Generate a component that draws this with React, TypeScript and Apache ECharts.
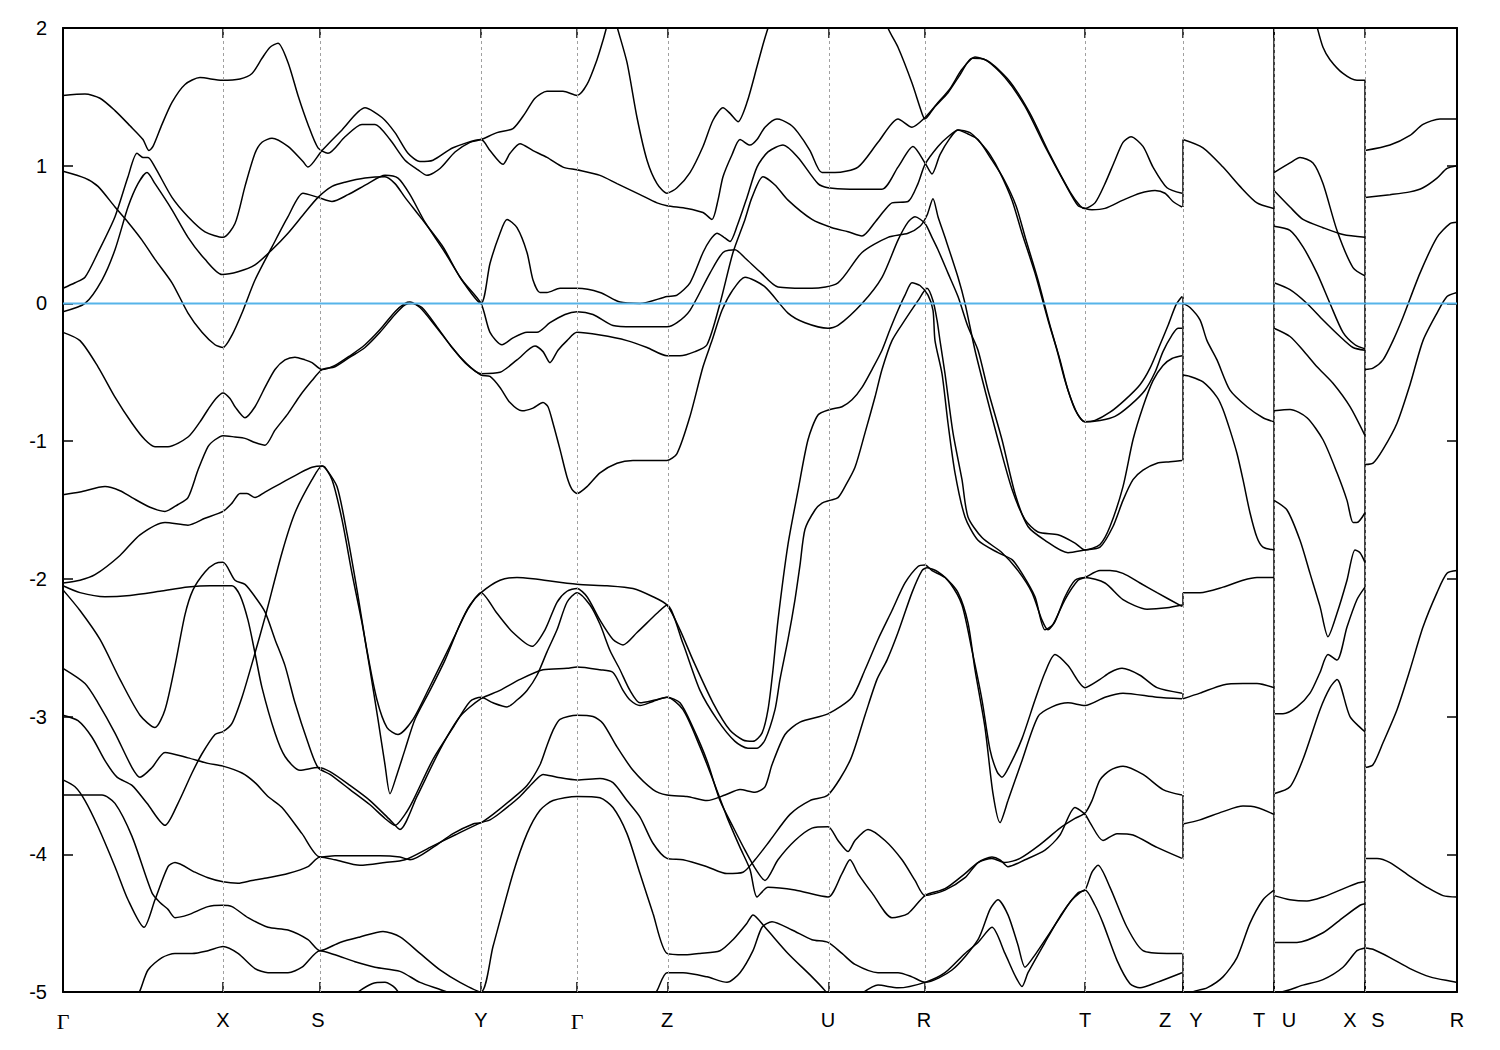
import React, { useEffect, useRef } from "react";
import * as echarts from "echarts";

// k-path coordinate (arbitrary units along the path) and energies in eV
const kTicks = [160, 257, 418, 514, 605, 766, 862, 1022, 1120, 1211, 1302];
const labelPos = [0, 160, 255, 418, 514, 604, 765, 861, 1022, 1102, 1133, 1196, 1226, 1287, 1315, 1394];
const labelText = ["Γ", "X", "S", "Y", "Γ", "Z", "U", "R", "T", "Z", "Y", "T", "U", "X", "S", "R"];
const breakJumps = [
  [1120, 1.19, 0.7], [1120, 0.05, -1.14], [1120, -2.1, -2.2], [1120, -2.83, -2.87],
  [1120, -3.57, -4.03], [1120, -4.72, -5.0], [1211, 2.0, -5.0], [1302, 1.62, -5.0],
];

// ---- segment Γ-X-S-Y-Γ-Z-U-R-T-Z ----
const bandC1 = [[0,1.51],[22,1.52],[37,1.49],[52,1.4],[67,1.29],[80,1.19],[86,1.11],[90,1.14],[99,1.3],[109,1.46],[122,1.59],[137,1.64],[159,1.62],[177,1.63],[189,1.67],[199,1.78],[207,1.86],[215,1.89],[225,1.75],[235,1.51],[245,1.3],[255,1.13],[265,1.09],[282,1.21],[299,1.3],[312,1.3],[327,1.19],[342,1.04],[355,0.97],[364,0.93],[377,0.98],[392,1.1],[407,1.17],[418,1.19],[434,1.24],[450,1.27],[462,1.38],[472,1.49],[484,1.54],[500,1.54],[514,1.51],[524,1.59],[534,1.77],[540,1.91],[547,2.09],[550,2.12],[554,2.01],[564,1.75],[574,1.35],[584,1.04],[594,0.87],[604,0.8],[614,0.84],[627,0.95],[640,1.14],[650,1.33],[660,1.42],[667,1.38],[675,1.32],[684,1.46],[694,1.72],[700,1.88],[705,2.0],[727,2.5],[765,2.86],[807,2.42],[825,2.0],[835,1.86],[849,1.6],[859,1.38],[862,1.34],[872,1.43],[885,1.53],[897,1.66],[909,1.78],[922,1.77],[942,1.64],[962,1.43],[982,1.14],[1002,0.87],[1015,0.71],[1022,0.69],[1029,0.68],[1042,0.69],[1060,0.75],[1077,0.8],[1092,0.82],[1102,0.8],[1110,0.74],[1119,0.7]];
const bandC2 = [[0,0.11],[12,0.15],[22,0.19],[35,0.37],[52,0.63],[65,0.92],[74,1.09],[80,1.06],[85,1.06],[92,0.99],[109,0.77],[125,0.63],[142,0.52],[160,0.48],[172,0.58],[182,0.85],[192,1.09],[199,1.17],[209,1.2],[225,1.14],[240,1.03],[245,0.99],[259,1.11],[279,1.26],[302,1.42],[319,1.35],[332,1.24],[345,1.09],[357,1.03],[370,1.04],[390,1.13],[418,1.19],[427,1.11],[440,1.01],[447,1.09],[457,1.16],[470,1.11],[484,1.06],[500,0.99],[514,0.97],[537,0.93],[554,0.87],[577,0.79],[594,0.73],[604,0.71],[624,0.69],[640,0.66],[649,0.61],[655,0.75],[660,0.92],[669,1.08],[677,1.19],[687,1.15],[694,1.19],[702,1.28],[714,1.34],[727,1.3],[735,1.24],[747,1.11],[759,0.95],[772,0.95],[795,0.99],[815,1.17],[835,1.34],[849,1.28],[862,1.35],[874,1.45],[887,1.56],[899,1.7],[912,1.79],[927,1.75],[947,1.61],[967,1.38],[987,1.08],[1007,0.81],[1017,0.71],[1022,0.69],[1032,0.73],[1042,0.87],[1052,1.04],[1060,1.17],[1068,1.21],[1080,1.14],[1090,0.99],[1104,0.84],[1119,0.8]];
const bandC3 = [[0,-0.06],[22,0.0],[39,0.17],[52,0.39],[65,0.7],[75,0.87],[84,0.95],[92,0.87],[109,0.68],[125,0.48],[142,0.32],[159,0.21],[175,0.23],[192,0.28],[209,0.39],[225,0.51],[242,0.66],[255,0.77],[269,0.85],[282,0.88],[302,0.91],[322,0.92],[332,0.87],[342,0.77],[357,0.63],[380,0.41],[397,0.19],[418,0.0],[427,0.29],[437,0.51],[444,0.61],[454,0.55],[464,0.37],[470,0.17],[477,0.08],[484,0.08],[497,0.11],[514,0.11],[537,0.08],[557,0.01],[577,0.0],[604,0.05],[614,0.06],[627,0.15],[640,0.37],[647,0.46],[654,0.51],[661,0.48],[667,0.45],[674,0.56],[684,0.77],[694,0.99],[705,1.1],[720,1.15],[735,1.06],[755,0.87],[765,0.84],[787,0.83],[819,0.83],[835,0.99],[850,1.14],[862,1.02],[869,0.94],[877,1.08],[887,1.2],[895,1.26],[907,1.24],[917,1.17],[927,1.08],[937,0.95],[949,0.75],[959,0.51],[972,0.22],[985,-0.12],[994,-0.34],[1002,-0.56],[1012,-0.77],[1022,-0.86],[1032,-0.85],[1047,-0.79],[1062,-0.7],[1077,-0.59],[1087,-0.47],[1097,-0.3],[1105,-0.16],[1113,-0.01],[1119,0.05]];
const bandC4 = [[0,0.96],[22,0.91],[35,0.85],[52,0.7],[65,0.59],[79,0.46],[92,0.32],[109,0.15],[125,-0.07],[139,-0.21],[152,-0.3],[160,-0.32],[169,-0.23],[179,-0.07],[192,0.17],[209,0.41],[225,0.63],[240,0.8],[255,0.77],[269,0.74],[285,0.79],[305,0.87],[322,0.93],[335,0.91],[347,0.79],[362,0.59],[382,0.37],[399,0.17],[418,0.0],[427,-0.21],[439,-0.3],[450,-0.25],[464,-0.21],[474,-0.21],[487,-0.14],[502,-0.08],[514,-0.06],[530,-0.08],[550,-0.16],[570,-0.17],[604,-0.17],[614,-0.14],[627,-0.05],[647,0.22],[660,0.37],[672,0.39],[682,0.33],[697,0.23],[715,0.12],[749,0.11],[775,0.15],[799,0.37],[825,0.48],[845,0.51],[857,0.56],[864,0.64],[870,0.76],[875,0.63],[882,0.48],[895,0.19],[902,0.0],[912,-0.34],[922,-0.63],[935,-0.99],[949,-1.35],[962,-1.57],[975,-1.66],[995,-1.68],[1012,-1.74],[1022,-1.79],[1037,-1.75],[1047,-1.62],[1060,-1.33],[1070,-0.99],[1080,-0.75],[1090,-0.56],[1100,-0.45],[1109,-0.4],[1119,-0.38]];
const bandM1 = [[0,-0.21],[17,-0.27],[35,-0.46],[52,-0.68],[69,-0.87],[82,-0.99],[92,-1.04],[105,-1.04],[125,-0.97],[137,-0.86],[145,-0.77],[153,-0.69],[160,-0.65],[167,-0.69],[172,-0.75],[182,-0.83],[192,-0.75],[202,-0.61],[212,-0.48],[222,-0.41],[232,-0.39],[242,-0.41],[249,-0.43],[259,-0.48],[272,-0.45],[287,-0.38],[302,-0.3],[317,-0.19],[332,-0.06],[342,0.0],[347,0.01],[357,-0.03],[372,-0.16],[387,-0.3],[402,-0.43],[418,-0.51],[437,-0.5],[454,-0.41],[472,-0.31],[480,-0.35],[487,-0.43],[495,-0.34],[504,-0.27],[514,-0.21],[537,-0.23],[564,-0.27],[584,-0.32],[604,-0.38],[617,-0.38],[632,-0.35],[644,-0.3],[657,0.0],[670,0.37],[682,0.61],[689,0.77],[700,0.92],[712,0.86],[725,0.75],[749,0.61],[769,0.55],[785,0.52],[799,0.49],[812,0.59],[822,0.68],[829,0.73],[845,0.74],[855,0.87],[862,1.01],[875,1.14],[885,1.21],[895,1.26],[905,1.23],[915,1.19],[929,1.04],[941,0.9],[953,0.71],[963,0.46],[975,0.17],[987,-0.16],[997,-0.41],[1005,-0.63],[1015,-0.81],[1022,-0.86],[1037,-0.85],[1052,-0.82],[1067,-0.74],[1082,-0.63],[1092,-0.5],[1100,-0.35],[1109,-0.23],[1115,-0.18],[1119,-0.18]];
const bandM2 = [[0,-1.39],[17,-1.37],[42,-1.33],[57,-1.36],[69,-1.41],[87,-1.48],[102,-1.51],[115,-1.46],[125,-1.41],[135,-1.21],[145,-1.04],[152,-0.99],[160,-0.96],[172,-0.97],[182,-0.98],[192,-1.01],[202,-1.03],[212,-0.92],[225,-0.8],[237,-0.67],[249,-0.56],[259,-0.48],[272,-0.46],[287,-0.39],[302,-0.32],[317,-0.21],[332,-0.08],[342,-0.01],[349,0.0],[359,-0.03],[374,-0.17],[389,-0.32],[404,-0.44],[418,-0.52],[427,-0.53],[437,-0.61],[447,-0.72],[459,-0.78],[470,-0.76],[480,-0.72],[485,-0.75],[490,-0.87],[497,-1.06],[504,-1.26],[509,-1.35],[514,-1.38],[524,-1.33],[537,-1.23],[554,-1.16],[570,-1.14],[604,-1.14],[614,-1.09],[627,-0.82],[640,-0.46],[649,-0.27],[659,-0.05],[670,0.1],[682,0.19],[702,0.12],[725,-0.07],[742,-0.14],[765,-0.18],[775,-0.16],[799,0.0],[819,0.19],[835,0.46],[845,0.59],[852,0.63],[862,0.58],[869,0.48],[875,0.39],[885,0.22],[895,0.05],[905,-0.17],[915,-0.34],[925,-0.63],[939,-0.99],[952,-1.38],[965,-1.62],[982,-1.72],[1005,-1.81],[1022,-1.79],[1037,-1.77],[1050,-1.62],[1060,-1.43],[1070,-1.28],[1080,-1.21],[1094,-1.16],[1107,-1.15],[1119,-1.14]];
const bandL1 = [[0,-2.03],[17,-2.01],[32,-1.97],[57,-1.83],[77,-1.68],[102,-1.59],[125,-1.61],[142,-1.56],[160,-1.51],[169,-1.45],[177,-1.38],[184,-1.38],[192,-1.41],[202,-1.37],[217,-1.31],[237,-1.23],[249,-1.19],[259,-1.18],[269,-1.28],[279,-1.57],[289,-1.96],[299,-2.32],[307,-2.66],[315,-3.02],[322,-3.35],[327,-3.56],[334,-3.42],[342,-3.24],[352,-3.02],[367,-2.81],[382,-2.59],[397,-2.33],[407,-2.19],[418,-2.1],[437,-2.01],[454,-1.99],[470,-2.0],[514,-2.04],[544,-2.05],[570,-2.07],[590,-2.13],[604,-2.19],[617,-2.37],[630,-2.59],[650,-2.9],[667,-3.1],[680,-3.17],[690,-3.18],[699,-3.12],[705,-2.95],[710,-2.66],[715,-2.3],[725,-1.75],[735,-1.36],[745,-0.99],[755,-0.81],[767,-0.77],[779,-0.75],[789,-0.7],[799,-0.61],[809,-0.48],[819,-0.34],[827,-0.19],[835,-0.05],[842,0.06],[849,0.15],[857,0.13],[865,0.06],[870,-0.05],[872,-0.27],[879,-0.51],[885,-0.87],[892,-1.23],[902,-1.55],[915,-1.72],[935,-1.81],[949,-1.86],[959,-1.96],[972,-2.13],[982,-2.37],[990,-2.33],[1002,-2.15],[1015,-2.01],[1022,-1.99],[1037,-1.94],[1047,-1.94],[1060,-1.96],[1077,-2.03],[1094,-2.1],[1119,-2.2]];
const bandL2 = [[0,-2.99],[15,-3.03],[29,-3.15],[42,-3.32],[54,-3.44],[69,-3.5],[84,-3.63],[102,-3.79],[115,-3.63],[129,-3.41],[139,-3.27],[152,-3.13],[160,-3.11],[169,-3.05],[179,-2.86],[190,-2.59],[202,-2.28],[219,-1.81],[232,-1.52],[249,-1.28],[259,-1.18],[262,-1.19],[274,-1.33],[284,-1.67],[294,-2.08],[304,-2.52],[314,-2.88],[324,-3.08],[335,-3.13],[350,-3.02],[367,-2.78],[380,-2.59],[392,-2.41],[404,-2.23],[418,-2.1],[434,-2.25],[450,-2.39],[469,-2.49],[482,-2.37],[494,-2.17],[504,-2.09],[514,-2.07],[524,-2.13],[537,-2.3],[550,-2.44],[560,-2.48],[574,-2.39],[594,-2.25],[604,-2.19],[620,-2.47],[637,-2.81],[654,-3.02],[672,-3.18],[685,-3.23],[694,-3.23],[702,-3.17],[712,-2.95],[717,-2.73],[725,-2.44],[732,-2.15],[737,-1.9],[742,-1.64],[752,-1.5],[759,-1.45],[767,-1.43],[775,-1.41],[782,-1.33],[792,-1.19],[802,-0.94],[812,-0.68],[819,-0.48],[829,-0.27],[842,-0.12],[855,0.02],[864,0.11],[870,0.02],[874,-0.12],[877,-0.27],[882,-0.51],[890,-0.94],[899,-1.28],[905,-1.55],[919,-1.7],[939,-1.81],[955,-1.94],[969,-2.1],[979,-2.3],[985,-2.37],[992,-2.31],[1002,-2.13],[1012,-2.01],[1022,-1.99],[1042,-2.03],[1060,-2.15],[1084,-2.22],[1104,-2.21],[1119,-2.19]];
const bandQ1 = [[0,-2.08],[17,-2.23],[37,-2.44],[57,-2.73],[77,-2.99],[92,-3.08],[102,-2.95],[112,-2.63],[122,-2.26],[130,-2.08],[142,-1.95],[152,-1.89],[160,-1.88],[172,-2.01],[182,-2.04],[192,-2.13],[202,-2.24],[212,-2.44],[222,-2.63],[232,-2.9],[245,-3.19],[255,-3.37],[267,-3.42],[287,-3.53],[307,-3.64],[322,-3.74],[332,-3.79],[342,-3.71],[350,-3.61],[370,-3.31],[390,-3.08],[407,-2.89],[418,-2.86],[430,-2.9],[444,-2.93],[454,-2.88],[464,-2.81],[474,-2.7],[484,-2.53],[494,-2.37],[504,-2.17],[514,-2.1],[527,-2.19],[537,-2.33],[547,-2.52],[557,-2.66],[567,-2.81],[577,-2.9],[592,-2.88],[604,-2.86],[617,-2.9],[630,-3.08],[644,-3.32],[657,-3.61],[670,-3.8],[682,-3.97],[692,-4.1],[702,-4.19],[715,-4.04],[732,-3.9],[749,-3.81],[765,-3.8],[775,-3.9],[785,-3.98],[792,-3.9],[805,-3.82],[822,-3.9],[839,-4.04],[852,-4.19],[862,-4.3],[882,-4.26],[902,-4.17],[915,-4.06],[929,-4.02],[937,-4.04],[945,-4.09],[962,-4.04],[982,-3.97],[997,-3.86],[1012,-3.66],[1022,-3.71],[1027,-3.77],[1040,-3.9],[1054,-3.85],[1070,-3.86],[1094,-3.95],[1119,-4.03]];
const bandL3 = [[0,-2.05],[17,-2.1],[42,-2.13],[67,-2.12],[97,-2.09],[125,-2.06],[147,-2.05],[169,-2.05],[177,-2.12],[185,-2.3],[192,-2.54],[199,-2.79],[212,-3.12],[222,-3.29],[237,-3.39],[255,-3.37],[267,-3.4],[287,-3.5],[307,-3.61],[327,-3.75],[337,-3.82],[354,-3.58],[377,-3.24],[397,-3.0],[418,-2.87],[437,-2.81],[457,-2.73],[480,-2.66],[504,-2.65],[514,-2.64],[537,-2.66],[550,-2.68],[560,-2.81],[567,-2.88],[577,-2.92],[590,-2.89],[604,-2.86],[620,-2.95],[637,-3.22],[650,-3.46],[664,-3.73],[677,-3.95],[687,-4.11],[694,-4.31],[705,-4.24],[732,-4.26],[765,-4.31],[779,-4.14],[787,-4.04],[795,-4.14],[809,-4.28],[829,-4.46],[845,-4.43],[862,-4.3],[882,-4.25],[902,-4.14],[915,-4.06],[929,-4.03],[942,-4.06],[957,-4.03],[977,-3.93],[997,-3.81],[1012,-3.74],[1022,-3.7],[1029,-3.61],[1037,-3.46],[1047,-3.39],[1060,-3.36],[1080,-3.42],[1100,-3.53],[1119,-3.57]];
const bandA1 = [[0,-2.65],[22,-2.76],[35,-2.9],[52,-3.12],[69,-3.37],[77,-3.44],[89,-3.37],[102,-3.26],[125,-3.3],[145,-3.34],[160,-3.36],[179,-3.41],[192,-3.48],[205,-3.58],[219,-3.66],[239,-3.85],[257,-4.02],[272,-4.01],[297,-4.01],[317,-4.01],[337,-4.02],[347,-4.04],[370,-3.95],[390,-3.85],[410,-3.78],[418,-3.77],[430,-3.71],[447,-3.61],[464,-3.5],[477,-3.35],[484,-3.21],[490,-3.1],[497,-3.02],[514,-2.99],[530,-3.0],[540,-3.05],[554,-3.22],[570,-3.39],[590,-3.53],[604,-3.57],[624,-3.58],[644,-3.61],[662,-3.57],[677,-3.53],[692,-3.55],[702,-3.51],[709,-3.35],[722,-3.13],[737,-3.04],[765,-2.98],[789,-2.86],[802,-2.66],[815,-2.44],[829,-2.23],[842,-2.03],[855,-1.91],[862,-1.9],[869,-1.94],[882,-1.99],[895,-2.1],[905,-2.32],[912,-2.66],[922,-3.08],[930,-3.56],[937,-3.77],[945,-3.61],[959,-3.32],[975,-3.0],[989,-2.93],[1005,-2.9],[1022,-2.92],[1042,-2.86],[1060,-2.83],[1094,-2.86],[1119,-2.87]];
const bandC5 = [[0,-3.46],[12,-3.51],[22,-3.61],[35,-3.8],[52,-4.09],[65,-4.33],[81,-4.53],[92,-4.33],[105,-4.09],[112,-4.06],[132,-4.13],[145,-4.17],[160,-4.2],[175,-4.21],[189,-4.19],[205,-4.17],[225,-4.14],[245,-4.09],[257,-4.02],[272,-4.04],[297,-4.08],[322,-4.06],[342,-4.04],[367,-3.95],[392,-3.86],[418,-3.77],[427,-3.75],[437,-3.7],[457,-3.58],[470,-3.48],[480,-3.42],[494,-3.44],[514,-3.46],[537,-3.45],[550,-3.48],[564,-3.61],[577,-3.73],[590,-3.92],[604,-4.03],[620,-4.04],[644,-4.09],[664,-4.14],[680,-4.13],[692,-4.04],[707,-3.9],[727,-3.71],[747,-3.61],[765,-3.57],[787,-3.32],[802,-2.99],[814,-2.73],[824,-2.59],[835,-2.39],[849,-2.1],[859,-1.94],[864,-1.92],[875,-1.95],[887,-2.03],[899,-2.19],[909,-2.52],[919,-2.88],[927,-3.24],[934,-3.4],[939,-3.44],[947,-3.35],[959,-3.16],[972,-2.88],[982,-2.68],[992,-2.55],[1005,-2.63],[1022,-2.79],[1037,-2.73],[1047,-2.68],[1059,-2.65],[1077,-2.7],[1094,-2.79],[1119,-2.83]];
const bandD1 = [[0,-3.57],[19,-3.57],[39,-3.57],[52,-3.63],[69,-3.87],[89,-4.28],[97,-4.35],[105,-4.4],[112,-4.46],[125,-4.44],[145,-4.38],[159,-4.37],[169,-4.38],[185,-4.46],[205,-4.53],[225,-4.55],[245,-4.62],[257,-4.7],[277,-4.64],[297,-4.6],[320,-4.56],[337,-4.6],[357,-4.72],[377,-4.84],[397,-4.93],[418,-5.0],[430,-4.67],[450,-4.14],[464,-3.85],[477,-3.68],[490,-3.61],[514,-3.58],[537,-3.59],[550,-3.66],[564,-3.85],[577,-4.14],[590,-4.43],[604,-4.72],[622,-4.73],[637,-4.72],[657,-4.7],[670,-4.62],[684,-4.5],[690,-4.44],[702,-4.53],[725,-4.72],[749,-4.89],[762,-4.99],[777,-5.13],[797,-5.02],[815,-4.95],[835,-4.97],[862,-4.93],[882,-4.86],[902,-4.72],[915,-4.64],[929,-4.53],[942,-4.72],[952,-4.88],[959,-4.96],[965,-4.86],[982,-4.64],[999,-4.43],[1015,-4.28],[1022,-4.26],[1029,-4.13],[1035,-4.08],[1047,-4.24],[1064,-4.53],[1080,-4.7],[1104,-4.72],[1119,-4.72]];
const bandE1 = [[67,-5.13],[77,-4.99],[85,-4.84],[99,-4.75],[112,-4.72],[129,-4.72],[145,-4.7],[160,-4.67],[175,-4.72],[192,-4.83],[205,-4.86],[225,-4.86],[239,-4.82],[257,-4.7],[272,-4.73],[292,-4.78],[312,-4.82],[337,-4.85],[357,-4.93],[384,-5.0],[407,-5.09],[467,-5.28],[537,-5.28],[587,-5.06],[594,-4.99],[604,-4.86],[620,-4.86],[644,-4.89],[664,-4.93],[677,-4.86],[690,-4.7],[699,-4.53],[709,-4.49],[729,-4.55],[749,-4.62],[765,-4.64],[779,-4.72],[792,-4.8],[815,-4.86],[835,-4.86],[849,-4.89],[862,-4.93],[889,-4.84],[915,-4.62],[927,-4.4],[935,-4.33],[945,-4.44],[955,-4.66],[962,-4.82],[972,-4.73],[995,-4.48],[1009,-4.33],[1022,-4.26],[1032,-4.37],[1040,-4.5],[1054,-4.77],[1067,-4.94],[1077,-4.97],[1094,-4.93],[1119,-4.86]];
const bandK1 = [[282,-5.08],[295,-5.0],[309,-4.94],[322,-4.93],[332,-4.97],[342,-5.08]];

// ---- segment Y-T ----
const ytBands = [
  [[1120,1.19],[1140,1.13],[1160,0.99],[1177,0.85],[1194,0.73],[1211,0.69]],
  [[1120,0.0],[1127,-0.03],[1137,-0.12],[1144,-0.27],[1154,-0.41],[1167,-0.63],[1184,-0.75],[1200,-0.83],[1211,-0.86]],
  [[1120,-0.52],[1127,-0.53],[1140,-0.57],[1154,-0.68],[1160,-0.77],[1167,-0.92],[1174,-1.09],[1180,-1.28],[1187,-1.52],[1194,-1.7],[1200,-1.77],[1211,-1.79]],
  [[1120,-2.1],[1137,-2.1],[1160,-2.06],[1180,-2.01],[1194,-1.99],[1211,-1.99]],
  [[1120,-2.87],[1137,-2.83],[1160,-2.77],[1180,-2.76],[1194,-2.76],[1211,-2.79]],
  [[1120,-3.78],[1137,-3.75],[1160,-3.69],[1180,-3.65],[1194,-3.66],[1211,-3.71]],
  [[1122,-5.06],[1130,-5.0],[1144,-4.97],[1160,-4.89],[1174,-4.75],[1187,-4.5],[1200,-4.33],[1211,-4.26]],
];

// ---- segment U-X ----
const uxBands = [
  [[1242,2.35],[1254,2.01],[1260,1.86],[1267,1.77],[1280,1.67],[1294,1.62],[1302,1.62]],
  [[1211,0.95],[1227,1.02],[1237,1.06],[1250,1.02],[1260,0.87],[1274,0.53],[1290,0.26],[1302,0.2]],
  [[1211,0.82],[1227,0.7],[1240,0.61],[1260,0.55],[1280,0.5],[1302,0.48]],
  [[1211,0.56],[1227,0.53],[1240,0.41],[1254,0.22],[1267,0.0],[1280,-0.21],[1292,-0.3],[1302,-0.33]],
  [[1211,0.15],[1227,0.1],[1244,0.0],[1260,-0.12],[1277,-0.24],[1290,-0.32],[1302,-0.34]],
  [[1211,-0.18],[1227,-0.24],[1240,-0.34],[1254,-0.46],[1270,-0.58],[1287,-0.75],[1302,-0.96]],
  [[1211,-0.78],[1227,-0.77],[1244,-0.83],[1260,-0.99],[1274,-1.23],[1284,-1.43],[1290,-1.59],[1294,-1.59],[1302,-1.52]],
  [[1211,-1.43],[1224,-1.5],[1237,-1.72],[1247,-1.96],[1257,-2.2],[1265,-2.42],[1274,-2.25],[1284,-2.01],[1292,-1.79],[1297,-1.81],[1302,-1.88]],
  [[1211,-2.98],[1220,-2.98],[1234,-2.93],[1247,-2.83],[1257,-2.68],[1265,-2.55],[1274,-2.59],[1284,-2.35],[1294,-2.15],[1302,-2.06]],
  [[1211,-3.56],[1227,-3.51],[1240,-3.31],[1257,-2.95],[1267,-2.79],[1274,-2.73],[1287,-3.0],[1302,-3.11]],
  [[1211,-4.3],[1227,-4.33],[1244,-4.34],[1260,-4.31],[1277,-4.26],[1294,-4.21],[1302,-4.2]],
  [[1211,-4.64],[1234,-4.64],[1260,-4.57],[1280,-4.46],[1297,-4.37],[1302,-4.36]],
  [[1211,-5.0],[1217,-5.0],[1240,-4.95],[1260,-4.91],[1280,-4.82],[1294,-4.7],[1302,-4.68]],
];

// ---- segment S-R ----
const srBands = [
  [[1302,1.11],[1327,1.15],[1347,1.22],[1360,1.3],[1377,1.34],[1394,1.34]],
  [[1302,0.77],[1327,0.79],[1347,0.81],[1360,0.84],[1374,0.91],[1384,0.98],[1394,1.0]],
  [[1302,-0.48],[1310,-0.47],[1320,-0.41],[1330,-0.27],[1340,-0.1],[1357,0.22],[1374,0.48],[1387,0.58],[1394,0.59]],
  [[1302,-1.17],[1310,-1.16],[1320,-1.06],[1334,-0.87],[1347,-0.59],[1360,-0.27],[1374,-0.07],[1384,0.05],[1394,0.08]],
  [[1302,-3.37],[1310,-3.35],[1320,-3.19],[1334,-2.95],[1347,-2.66],[1360,-2.35],[1374,-2.1],[1384,-1.96],[1394,-1.94]],
  [[1302,-4.03],[1314,-4.03],[1327,-4.06],[1347,-4.16],[1364,-4.24],[1380,-4.3],[1394,-4.31]],
  [[1302,-4.68],[1310,-4.69],[1327,-4.75],[1347,-4.83],[1367,-4.89],[1394,-4.93]],
];

const mainBands = [bandC1, bandC2, bandC3, bandC4, bandM1, bandM2, bandL1, bandL2, bandQ1, bandL3, bandA1, bandC5, bandD1, bandE1, bandK1];

export default function App() {
  const ref = useRef<HTMLDivElement>(null);
  useEffect(() => {
    if (!ref.current) return;
    const chart = echarts.init(ref.current, undefined, { renderer: "svg" });
    const bandStyle = { color: "#000", width: 1.5 };
    const allBands = [...mainBands, ...ytBands, ...uxBands, ...srBands];
    const series: any[] = allBands.map((b) => ({
      type: "line",
      data: b,
      smooth: 0.25,
      showSymbol: false,
      symbol: "none",
      silent: true,
      lineStyle: bandStyle,
      z: 3,
    }));
    breakJumps.forEach((j) => {
      series.push({
        type: "line",
        data: [[j[0], j[1]], [j[0], j[2]]],
        showSymbol: false,
        symbol: "none",
        silent: true,
        lineStyle: bandStyle,
        z: 3,
      });
    });
    series.push({
      type: "line",
      data: [],
      silent: true,
      markLine: {
        silent: true,
        symbol: ["none", "none"],
        label: { show: false },
        lineStyle: { type: [3, 3], color: "#a0a0a0", width: 1 },
        data: kTicks.map((k) => ({ xAxis: k })),
        animation: false,
      },
      z: 1,
    });
    series.push({
      type: "line",
      data: [[0, 0], [1394, 0]],
      showSymbol: false,
      symbol: "none",
      silent: true,
      lineStyle: { color: "#56b4e9", width: 2 },
      z: 5,
    });

    const labelFor = (v: number) => {
      const i = labelPos.findIndex((p) => Math.abs(p - v) < 0.5);
      if (i < 0) return "";
      const t = labelText[i];
      return t === "Γ" ? "{g|" + t + "}" : "{s|" + t + "}";
    };
    const tickStyle = { show: true, inside: true, length: 10, lineStyle: { color: "#000", width: 1.5 } };
    const axisLineStyle = { show: true, onZero: false, lineStyle: { color: "#000", width: 2 } };

    chart.setOption({
      animation: false,
      backgroundColor: "#fff",
      grid: { left: 63, right: 43, top: 28, bottom: 58, containLabel: false },
      xAxis: [
        {
          type: "value", min: 0, max: 1394, position: "bottom",
          axisLine: axisLineStyle,
          axisTick: { ...tickStyle, customValues: kTicks },
          splitLine: { show: false },
          axisLabel: {
            show: true, customValues: labelPos, margin: 18,
            formatter: labelFor,
            rich: {
              g: { fontFamily: "Liberation Serif", fontSize: 22, color: "#000" },
              s: { fontFamily: "Liberation Sans", fontSize: 20, color: "#000" },
            },
          },
        },
        {
          type: "value", min: 0, max: 1394, position: "top",
          axisLine: axisLineStyle,
          axisTick: { ...tickStyle, customValues: kTicks },
          splitLine: { show: false },
          axisLabel: { show: false },
        },
      ],
      yAxis: [
        {
          type: "value", min: -5, max: 2, interval: 1, position: "left",
          axisLine: axisLineStyle,
          axisTick: tickStyle,
          splitLine: { show: false },
          axisLabel: { color: "#000", fontSize: 20, fontFamily: "Liberation Sans", margin: 16 },
        },
        {
          type: "value", min: -5, max: 2, interval: 1, position: "right",
          axisLine: axisLineStyle,
          axisTick: tickStyle,
          splitLine: { show: false },
          axisLabel: { show: false },
        },
      ],
      series,
    });
    return () => chart.dispose();
  }, []);
  return (
    <div
      ref={ref}
      style={{ position: "fixed", left: 0, top: 0, width: 1500, height: 1050, background: "#fff" }}
    />
  );
}
